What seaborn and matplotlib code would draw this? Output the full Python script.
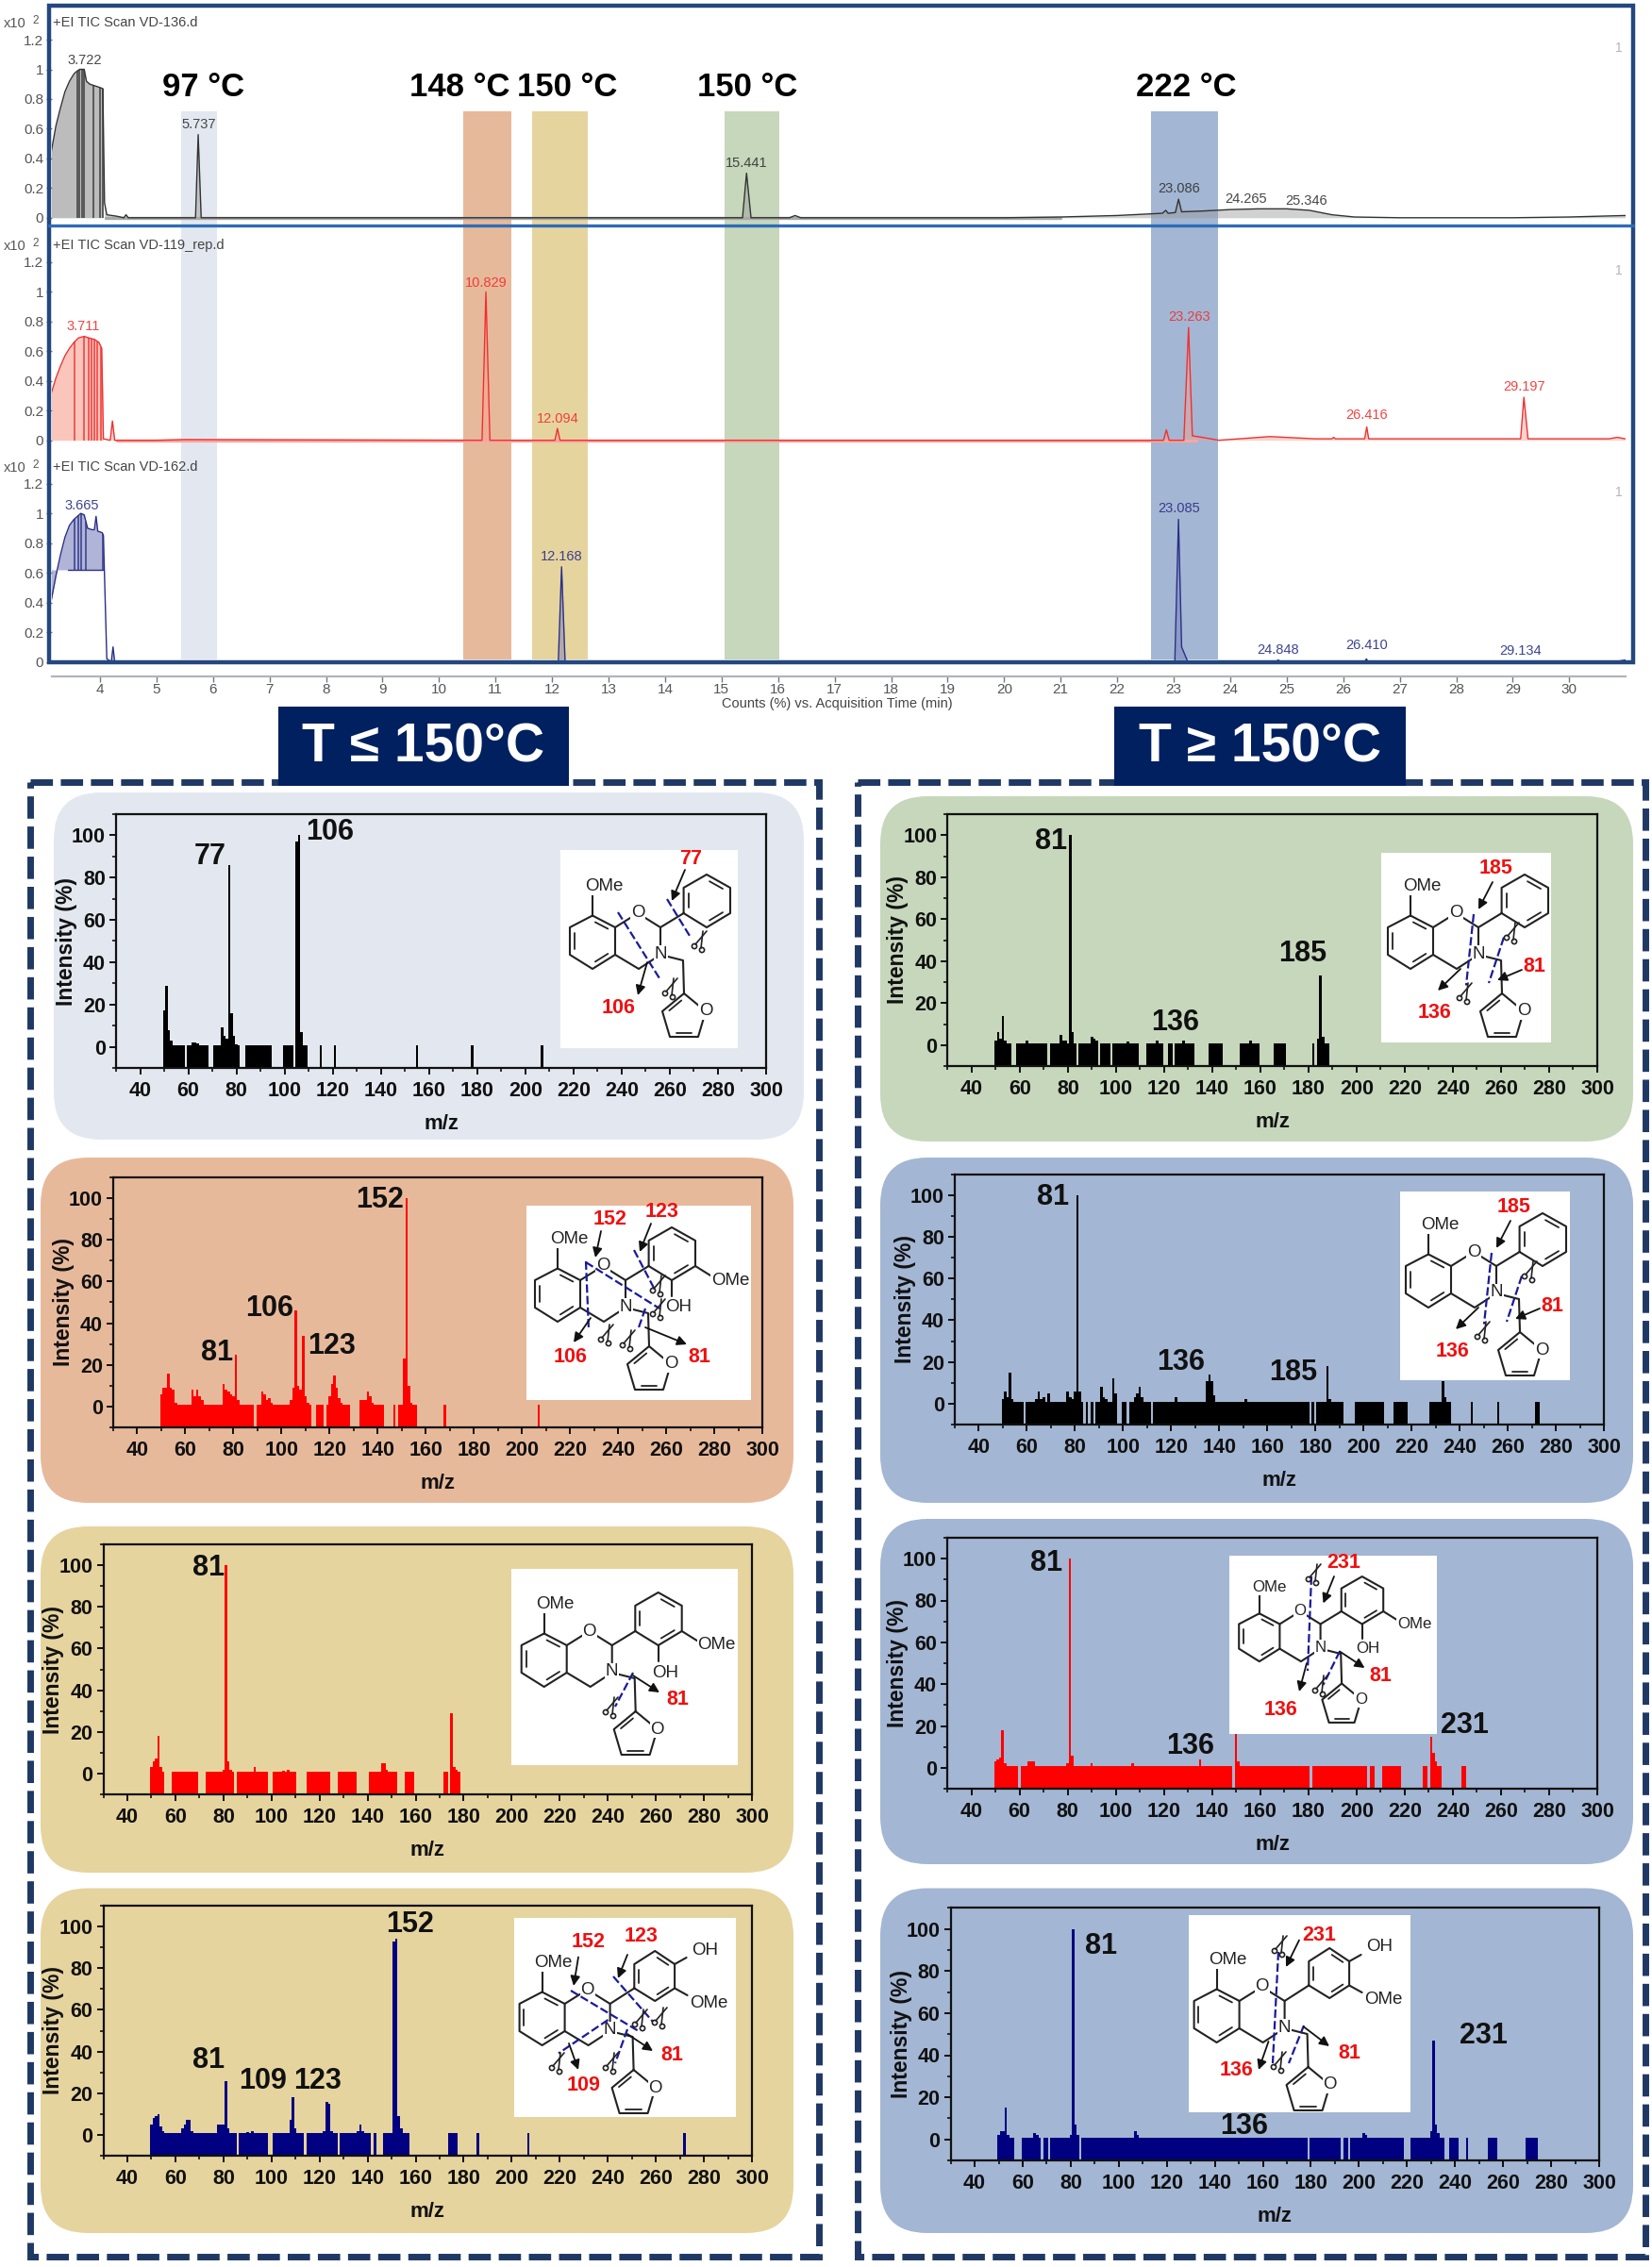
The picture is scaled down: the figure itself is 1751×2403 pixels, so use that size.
import numpy as np
import matplotlib
matplotlib.use('Agg')
import matplotlib.pyplot as plt
from matplotlib.patches import FancyBboxPatch, Rectangle, Circle
import seaborn as sns

W, H = 1751, 2403

# TIC traces, retention time (min) vs counts (x10^2)
tic1_t = [3.14, 3.22, 3.3, 3.38, 3.46, 3.54, 3.6, 3.64, 3.72, 3.76, 3.82, 3.9, 3.98, 4.05, 4.08, 4.12, 4.3, 4.42, 4.46, 4.5,
          5.69, 5.737, 5.79, 15.37, 15.441, 15.52, 16.2, 16.3, 16.4, 20, 21, 22, 22.8, 22.86, 22.9, 23.03, 23.086, 23.14,
          23.5, 24, 24.5, 25, 25.4, 25.8, 26.2, 27, 29, 30, 30.99]
tic1_v = [0.45, 0.62, 0.74, 0.85, 0.92, 0.97, 0.99, 1.0, 1.0, 0.92, 0.9, 0.89, 0.88, 0.87, 0.1, 0.02, 0.01, 0.0, 0.02, 0.0,
          0.0, 0.56, 0.0, 0.0, 0.3, 0.0, 0.0, 0.015, 0.0, 0.0, 0.005, 0.015, 0.03, 0.05, 0.03, 0.035, 0.125, 0.04,
          0.045, 0.055, 0.06, 0.06, 0.05, 0.02, 0.005, 0.0, 0.0, 0.005, 0.015]
tic1_cuts = [3.6, 3.64, 3.68, 3.72, 3.88, 4.0, 4.05]
tic1_base_t = [4.1, 21]
tic1_base_v = [0.0, 0.0]

tic2_t = [3.14, 3.22, 3.3, 3.38, 3.46, 3.54, 3.62, 3.72, 3.8, 3.9, 3.98, 4.03, 4.06, 4.18, 4.22, 4.26, 5.0, 5.5, 10.76, 10.829, 10.9,
          12.05, 12.094, 12.14, 22.82, 22.87, 22.92, 23.18, 23.263, 23.33, 23.5, 23.8, 24.7, 25.5, 25.8, 25.83, 25.86,
          26.38, 26.416, 26.45, 29.14, 29.197, 29.27, 30.7, 30.85, 30.99]
tic2_v = [0.32, 0.42, 0.5, 0.57, 0.62, 0.66, 0.69, 0.7, 0.69, 0.68, 0.66, 0.62, 0.01, 0.0, 0.13, 0.0, 0.0, 0.005, 0.0, 1.0, 0.0,
          0.0, 0.08, 0.0, 0.0, 0.07, 0.0, 0.0, 0.76, 0.03, 0.02, 0.0, 0.025, 0.01, 0.01, 0.02, 0.01,
          0.01, 0.09, 0.01, 0.01, 0.29, 0.01, 0.01, 0.02, 0.01]
tic2_cuts = [3.55, 3.72, 3.8, 3.85, 3.9, 3.95, 4.02]
tic2_base_t = [4.3, 23.4]
tic2_base_v = [0.0, 0.0]

tic3_t = [3.14, 3.22, 3.3, 3.38, 3.46, 3.54, 3.6, 3.66, 3.72, 3.78, 3.86, 3.9, 3.93, 3.96, 4.04, 4.06, 4.12, 4.2, 4.23, 4.26,
          4.5, 12.11, 12.168, 12.23, 23.02, 23.085, 23.14, 23.25, 24.8, 24.848, 24.9, 26.38, 26.41, 26.44, 30.8, 30.99]
tic3_v = [0.42, 0.58, 0.72, 0.84, 0.92, 0.96, 0.98, 1.0, 0.99, 0.9, 0.89, 0.89, 0.98, 0.88, 0.87, 0.85, 0.02, 0.0, 0.1, 0.0,
          0.0, 0.0, 0.64, 0.0, 0.0, 0.96, 0.1, 0.0, 0.0, 0.012, 0.0, 0.0, 0.02, 0.0, 0.0, 0.012]
tic3_cuts = [3.55, 3.62, 3.66, 3.75, 4.05]

tic_names = ['+EI TIC Scan VD-136.d', '+EI TIC Scan VD-119_rep.d', '+EI TIC Scan VD-162.d']
tic1_labels = [('3.722', 3.73, 1.06), ('5.737', 5.74, 0.63), ('15.441', 15.44, 0.368),
               ('23.086', 23.09, 0.194), ('24.265', 24.27, 0.124), ('25.346', 25.35, 0.11)]
tic2_labels = [('3.711', 3.7, 0.77), ('10.829', 10.84, 1.06), ('12.094', 12.1, 0.145),
               ('23.263', 23.27, 0.83), ('26.416', 26.41, 0.17), ('29.197', 29.2, 0.36)]
tic3_labels = [('3.665', 3.67, 1.05), ('12.168', 12.17, 0.71), ('23.085', 23.09, 1.03),
               ('24.848', 24.85, 0.08), ('26.410', 26.41, 0.11), ('29.134', 29.13, 0.07)]

# mass spectra: runs of m/z with a low signal, then the peaks that stand out
l1_runs = [(50, 56), (57, 58), (60, 68), (71, 81), (84, 94), (100, 103), (105, 109), (115, 115), (121, 121), (155, 155), (178, 178), (207, 207)]
l1_peaks = {50: 17, 51: 29, 52: 8, 53: 3, 62: 2, 63: 2, 64: 1.5, 74: 9, 75: 5, 76: 4, 77: 86, 78: 16, 79: 5, 80: 1, 105: 97, 106: 100, 107: 7}
l1_labels = [('77', 69, 90), ('106', 119, 101.5)]

l2_runs = [(50, 84), (85, 88), (90, 99), (100, 101), (102, 104), (105, 112), (115, 117), (119, 128), (133, 142), (147, 147), (149, 149), (150, 156), (168, 168), (207, 207)]
l2_peaks = {50: 6, 51: 9, 52: 9, 53: 16, 54: 9, 55: 8, 56: 2, 63: 8, 64: 5, 65: 8, 66: 5, 67: 3, 76: 11, 77: 8, 78: 7, 79: 6, 80: 5, 81: 25, 82: 3,
            92: 7, 93: 6, 94: 3, 95: 4, 96: 2, 104: 3, 105: 9, 106: 46, 107: 10, 108: 8, 109: 34, 110: 5, 111: 2, 120: 5, 121: 11, 122: 15, 123: 9, 124: 4, 125: 2,
            133: 3, 134: 3, 135: 3, 136: 7, 137: 5, 138: 2, 151: 23, 152: 100, 153: 10, 154: 2, 155: 1}
l2_labels = [('152', 140.7, 99), ('106', 95, 47), ('123', 121, 29), ('81', 73, 26)]

l3_runs = [(50, 55), (59, 69), (73, 74), (75, 84), (86, 89), (90, 98), (101, 110), (115, 124), (128, 135), (141, 143), (144, 150), (151, 152), (156, 159), (172, 173), (175, 178)]
l3_peaks = {50: 3, 51: 6, 52: 7, 53: 18, 54: 3, 62: 1, 80: 2, 81: 100, 82: 6, 83: 2, 93: 3, 105: 1.5, 107: 2, 146: 5, 147: 5, 148: 2, 175: 29, 176: 3, 177: 2}
l3_labels = [('81', 73.8, 98.5)]

l4_runs = [(50, 71), (72, 85), (87, 98), (101, 102), (103, 113), (115, 127), (129, 130), (131, 132), (133, 140), (141, 141), (143, 143), (147, 150), (151, 157), (174, 177), (186, 186), (207, 207), (272, 272)]
l4_peaks = {50: 5, 51: 8, 52: 9, 53: 10, 54: 4, 55: 2, 63: 3, 64: 5, 65: 7, 66: 7, 67: 2, 78: 5, 79: 5, 80: 5, 81: 26, 82: 3, 90: 1.5, 92: 2,
            108: 7, 109: 18, 110: 3, 122: 2, 123: 16, 124: 15, 125: 2, 136: 2, 137: 5, 138: 2, 151: 93, 152: 94, 153: 9, 154: 3, 155: 1}
l4_labels = [('152', 157.7, 101), ('81', 74, 35.6), ('109', 96.3, 26), ('123', 119.3, 26)]

r1_runs = [(50, 56), (59, 59), (60, 66), (67, 71), (73, 83), (85, 92), (94, 97), (99, 102), (102, 109), (113, 119), (122, 123), (125, 132), (139, 144), (152, 159), (166, 170), (182, 182), (184, 188)]
r1_peaks = {50: 2, 51: 6, 52: 3, 53: 14, 54: 2, 63: 2, 64: 1, 77: 5, 78: 2, 79: 2, 81: 100, 82: 6, 83: 1, 90: 4, 91: 3, 92: 2, 105: 1.5, 117: 2, 128: 2, 156: 2, 184: 3, 185: 33, 186: 4, 187: 1}
r1_labels = [('81', 73, 97), ('185', 177.7, 43.6), ('136', 124.5, 10.5)]

r2_runs = [(50, 58), (60, 71), (72, 83), (85, 85), (87, 87), (89, 97), (100, 101), (103, 103), (104, 111), (113, 177), (179, 179), (181, 182), (183, 191), (197, 208), (213, 218), (228, 236), (245, 245), (256, 256), (272, 273)]
r2_peaks = {50: 2, 51: 6, 52: 3, 53: 15, 54: 2, 64: 2, 65: 6, 66: 2, 67: 3, 69: 5, 77: 6, 78: 3, 79: 2, 80: 6, 81: 100, 82: 6, 91: 8, 92: 3, 93: 2, 96: 12, 97: 5,
            105: 3, 106: 5, 107: 8, 108: 3, 122: 3, 135: 11, 136: 14, 137: 11, 138: 4, 151: 2, 185: 18, 186: 2, 233: 11, 234: 3}
r2_labels = [('81', 70.8, 99), ('136', 124, 19.8), ('185', 170.8, 15)]

r3_runs = [(50, 59), (61, 70), (71, 72), (73, 86), (87, 98), (99, 109), (109, 147), (148, 148), (150, 180), (182, 192), (193, 204), (206, 207), (211, 218), (228, 229), (231, 235), (244, 245)]
r3_peaks = {50: 3, 51: 4, 52: 5, 53: 18, 54: 2, 64: 3, 65: 3, 66: 3, 80: 2, 81: 100, 82: 6, 83: 1, 90: 2, 107: 2, 135: 4, 150: 20, 151: 3, 231: 15, 232: 7, 233: 3}
r3_labels = [('81', 71.3, 98), ('136', 130.8, 10.3), ('231', 245, 20.4)]

r4_runs = [(50, 56), (60, 67), (69, 70), (72, 83), (85, 97), (98, 102), (103, 166), (167, 178), (180, 192), (194, 195), (197, 204), (205, 209), (210, 218), (222, 225), (226, 228), (229, 235), (238, 241), (245, 245), (254, 257), (270, 274)]
r4_peaks = {50: 2, 51: 4, 52: 4, 53: 15, 54: 2, 65: 3, 66: 2, 80: 2, 81: 100, 82: 7, 83: 2, 107: 4, 108: 2, 202: 3, 203: 2, 230: 4, 231: 47, 232: 7, 233: 3}
r4_labels = [('81', 92.7, 92), ('231', 252, 49), ('136', 152, 6)]

sns.set_theme(style='white')
plt.rcParams['font.family'] = ['Liberation Sans', 'DejaVu Sans']
plt.rcParams['axes.unicode_minus'] = False

fig = plt.figure(figsize=(W / 100, H / 100), dpi=100, facecolor='white')


def px_axes(x0, y0, x1, y1, z=2):
    # axes placed by its pixel box in the picture
    ax = fig.add_axes([x0 / W, 1 - y1 / H, (x1 - x0) / W, (y1 - y0) / H], zorder=z)
    ax.patch.set_alpha(0)
    return ax


under = px_axes(0, 0, W, H, z=0)
over = px_axes(0, 0, W, H, z=5)
for a in (under, over):
    a.set_xlim(0, W)
    a.set_ylim(H, 0)
    a.axis('off')

BLUE_PALE, ORANGE, YELLOW, GREEN, BLUE = '#e3e8f0', '#e7b99b', '#e6d49f', '#c6d7bc', '#a3b6d3'
NAVY = '#00205f'

# highlight bands behind the traces
for x0, x1, c in [(192, 229.6, BLUE_PALE), (491.4, 542, ORANGE), (564, 623, YELLOW), (767.5, 825.5, GREEN), (1219.7, 1291, BLUE)]:
    under.add_patch(Rectangle((x0, 118), x1 - x0, 581, color=c, lw=0))
for txt, x in [('97 °C', 216), ('148 °C', 487), ('150 °C', 601.6), ('150 °C', 792), ('222 °C', 1257.6)]:
    under.text(x, 93, txt, fontsize=25, fontweight='bold', ha='center', va='center', color='black')


def tic_panel(y0, t, v, cuts, labels, name, color, fill, alpha, floor=0.0, xaxis=False, base=None, base_color=None):
    scale = 157.3
    ax = px_axes(54.5, y0 - 1.25 * scale, 1722.6, y0 + 0.03 * scale)
    t, v = np.array(t), np.array(v)
    early = t <= 4.06
    ax.fill_between(t[early], floor, v[early], color=fill, alpha=alpha, lw=0)
    ax.fill_between(t[~early], 0, v[~early], color=fill, alpha=0.45, lw=0)
    ax.vlines(cuts, floor, np.interp(cuts, t, v), color=color, lw=1.2, alpha=0.85)
    if floor > 0:
        ax.plot([t[0] + 0.3, 4.05], [floor, floor], color=color, lw=1)
    if base is not None:
        sns.lineplot(x=base[0], y=base[1], color=base_color, lw=2.4, estimator=None, sort=False, ax=ax)
    sns.lineplot(x=t, y=v, color=color, lw=1.0, estimator=None, sort=False, ax=ax)
    ax.set_xlim(3.14, 30.99)
    ax.set_ylim(-0.03, 1.25)
    ax.set_yticks([0, 0.2, 0.4, 0.6, 0.8, 1, 1.2], ['0', '0.2', '0.4', '0.6', '0.8', '1', '1.2'])
    ax.tick_params(axis='y', left=True, length=4, width=1, color='#777777', labelcolor='#555555', labelsize=11, pad=2)
    for s in ('top', 'right', 'left'):
        ax.spines[s].set_visible(False)
    if xaxis:
        ax.spines['bottom'].set_position(('outward', 8))
        ax.spines['bottom'].set_color('#b0b4bc')
        ax.spines['bottom'].set_linewidth(1.6)
        ax.set_xticks(range(4, 31))
        ax.tick_params(axis='x', bottom=True, length=4, width=1, color='#777777', labelcolor='#555555', labelsize=11, pad=1)
    else:
        ax.spines['bottom'].set_visible(False)
        ax.set_xticks([])
    ax.set_xlabel('')
    ax.set_ylabel('')
    for txt, x, y in labels:
        ax.text(x, y, txt, color=color, fontsize=10.5, ha='center', va='center', alpha=0.9)
    top = y0 - 206.5
    over.text(55.7, top, name, fontsize=10.5, color='#444444', ha='left', va='center')
    over.text(3.4, top + 1, 'x10', fontsize=10.5, color='#555555', ha='left', va='center')
    over.text(34, top - 2, '2', fontsize=8.5, color='#555555', ha='left', va='center')
    over.text(1715.7, top + 27, '1', fontsize=10, color='#b5b5b5', ha='center', va='center')
    return ax


tic_panel(230.8, tic1_t, tic1_v, tic1_cuts, tic1_labels, tic_names[0], '#333333', '#999999', 0.65,
          base=(tic1_base_t, tic1_base_v), base_color='#a8a8a8')
tic_panel(466.7, tic2_t, tic2_v, tic2_cuts, tic2_labels, tic_names[1], '#f03030', '#f7a090', 0.6,
          base=(tic2_base_t, tic2_base_v), base_color='#f5a8a0')
tic_panel(701.5, tic3_t, tic3_v, tic3_cuts, tic3_labels, tic_names[2], '#2a2f86', '#7078b8', 0.55, floor=0.62, xaxis=True)
over.text(887.6, 746, 'Counts (%) vs. Acquisition Time (min)', fontsize=10.5, color='#444444', ha='center', va='center')

over.add_patch(Rectangle((52, 6), 1679, 695.5, fill=False, ec='#24477f', lw=3.2))
over.plot([52, 1731], [239, 239], color='#2f6cb5', lw=2.4)

# dashed frames and headers
for x0, x1 in [(32, 868), (909, 1744)]:
    under.add_patch(Rectangle((x0, 829), x1 - x0, 1563, fill=False, ec='#1f3864', lw=5, ls=(0, (3.4, 1.2)), capstyle='butt'))
for x0, x1, txt in [(294.5, 603, 'T ≤ 150°C'), (1180.7, 1489.5, 'T ≥ 150°C')]:
    under.add_patch(Rectangle((x0, 749), x1 - x0, 84, color=NAVY, lw=0))
    under.text((x0 + x1) / 2, 792, txt, color='white', fontsize=41, fontweight='bold', ha='center', va='center')


def spectrum(runs, peaks):
    # low bars for every run, real heights where a peak was read
    table = {}
    for a, b in runs:
        for m in range(a, b + 1):
            table[m] = 0.8
    table.update(peaks)
    mz = np.array(sorted(table))
    return mz, np.array([table[m] for m in mz])


def ms_panel(card, box, color, fill, runs, peaks, labels):
    cx0, cy0, cx1, cy1 = card
    under.add_patch(FancyBboxPatch((cx0, cy0), cx1 - cx0, cy1 - cy0, boxstyle='round,pad=0,rounding_size=50', fc=fill, ec='none'))
    ax = px_axes(*box)
    mz, inten = spectrum(runs, peaks)
    sns.barplot(x=mz, y=inten + 10, bottom=-10, native_scale=True, color=color, saturation=1,
                errorbar=None, width=1, linewidth=0, ax=ax)
    ax.set_xlim(30, 300)
    ax.set_ylim(-10, 110)
    ax.set_xticks(range(40, 301, 20))
    ax.set_xticks(range(30, 301, 10), minor=True)
    ax.set_yticks(range(0, 101, 20))
    ax.set_yticks(range(-10, 111, 10), minor=True)
    ax.tick_params(which='major', bottom=True, left=True, length=5, width=1.3, color='black', labelcolor='#111111', pad=5)
    ax.tick_params(which='minor', bottom=True, left=True, length=3, width=1.1, color='black')
    for lab in ax.get_xticklabels() + ax.get_yticklabels():
        lab.set_fontsize(15.5)
        lab.set_fontweight('bold')
    ax.tick_params(axis='y', which='major', pad=3)
    for s in ax.spines.values():
        s.set_visible(True)
        s.set_color('#111111')
        s.set_linewidth(1.6)
    ax.set_xlabel('m/z', fontsize=16, fontweight='bold', color='#111111')
    ax.set_ylabel('Intensity (%)', fontsize=16.5, fontweight='bold', color='#111111')
    ax.xaxis.set_label_coords(0.5, -49 / (box[3] - box[1]))
    ax.yaxis.set_label_coords(-41 / (box[2] - box[0]), 0.5)
    for txt, x, y in labels:
        ax.text(x, y, txt, fontsize=22, fontweight='bold', ha='center', va='center', color='#111111')
    return ax


ms_panel((57, 840, 852, 1208), (123, 863, 812, 1132), '#000000', BLUE_PALE, l1_runs, l1_peaks, l1_labels)
ms_panel((43, 1227, 841, 1593), (120, 1248, 808, 1513), '#ff0000', ORANGE, l2_runs, l2_peaks, l2_labels)
ms_panel((43, 1618, 841, 1985), (109.5, 1637, 797, 1902), '#ff0000', YELLOW, l3_runs, l3_peaks, l3_labels)
ms_panel((43, 2001.5, 841, 2367), (109.5, 2020, 797, 2285), '#000080', YELLOW, l4_runs, l4_peaks, l4_labels)
ms_panel((933, 844, 1731, 1210), (1004.4, 863, 1693, 1130), '#000000', GREEN, r1_runs, r1_peaks, r1_labels)
ms_panel((933, 1227, 1731, 1593), (1012, 1244.5, 1700, 1510), '#000000', BLUE, r2_runs, r2_peaks, r2_labels)
ms_panel((933, 1610, 1731, 1976), (1004, 1630, 1693, 1896), '#ff0000', BLUE, r3_runs, r3_peaks, r3_labels)
ms_panel((933, 2001.5, 1731, 2367), (1007.6, 2022.4, 1695, 2290), '#000080', BLUE, r4_runs, r4_peaks, r4_labels)

# molecule skeleton, offsets in pixels from the ring oxygen
BENZ = [(-48, 2.5), (-24, 15), (-24, 44), (-48, 59), (-72, 44), (-72, 15)]
CHAIN = [(-24, 44), (1, 59), (24, 44), (24, 15), (0, 0), (-24, 15)]
SIDE = [(24, 44), (48, 50), (49, 85)]
FURAN = [(49, 85), (72, 104), (64, 131), (34, 131), (26, 104)]
PH_OPEN = [(48.6, 0), (48.6, -27), (73, -41), (98, -27), (98, 0), (73, 15)]
PH_PARA = [(49.7, -1.5), (49.7, -27), (71.6, -41), (92.5, -27), (92.5, -1.5), (71.6, 12)]
BOND = '#222222'


def bonds(ox, oy, s, pts, close=False, lw=1.5):
    p = np.array(list(pts) + list(pts[:1]) if close else pts, dtype=float) * s
    over.plot(p[:, 0] + ox, p[:, 1] + oy, color=BOND, lw=lw, solid_capstyle='round')


def doubles(ox, oy, s, pts, which):
    pts = np.array(pts, dtype=float) * s
    c = pts.mean(axis=0)
    for i in which:
        a = pts[i]
        b = pts[(i + 1) % len(pts)]
        a2 = a + (c - a) * 0.2 + (b - a) * 0.12
        b2 = b + (c - b) * 0.2 - (b - a) * 0.12
        over.plot([a2[0] + ox, b2[0] + ox], [a2[1] + oy, b2[1] + oy], color=BOND, lw=1.3)


def mol_text(x, y, txt, size=13.5):
    over.text(x, y, txt, fontsize=size, color=BOND, ha='center', va='center',
              bbox=dict(fc='white', ec='none', pad=0.6))


def scissors(x, y):
    for dx, dy in [(-5, 3), (3, 7)]:
        over.add_patch(Circle((x + dx, y + dy), 2.6, fc='none', ec=BOND, lw=1.2, zorder=6))
    over.plot([x - 4, x + 8], [y + 1, y - 13], color=BOND, lw=1.2, zorder=6)
    over.plot([x + 2, x + 4], [y + 5, y - 13], color=BOND, lw=1.2, zorder=6)


def molecule(rect, anchor, kind, nums, arrows, cuts, sciss, s=1.0):
    x0, y0, x1, y1 = rect
    over.add_patch(Rectangle((x0, y0), x1 - x0, y1 - y0, fc='white', ec='none'))
    ox, oy = anchor
    bonds(ox, oy, s, BENZ, close=True)
    doubles(ox, oy, s, BENZ, [0, 2, 4])
    bonds(ox, oy, s, CHAIN)
    bonds(ox, oy, s, SIDE)
    bonds(ox, oy, s, [(-48, 2.5), (-48, -20)])
    bonds(ox, oy, s, FURAN, close=True)
    doubles(ox, oy, s, FURAN, [2, 4])
    size = 13.5 * s
    mol_text(ox - 36 * s, oy - 28.5 * s, 'OMe', size)
    mol_text(ox, oy, 'O', size)
    mol_text(ox + 24 * s, oy + 43 * s, 'N', size)
    mol_text(ox + 72 * s, oy + 104 * s, 'O', size)
    ring = PH_PARA if kind == 'para' else PH_OPEN
    bonds(ox, oy, s, [(24, 15), ring[0]])
    bonds(ox, oy, s, ring, close=True)
    doubles(ox, oy, s, ring, [0, 2, 4])
    if kind == 'ortho':
        bonds(ox, oy, s, [(98, 0), (114, 10)])
        bonds(ox, oy, s, [(73, 15), (73, 32)])
        mol_text(ox + 135 * s, oy + 15 * s, 'OMe', size)
        mol_text(ox + 80 * s, oy + 44 * s, 'OH', size)
    elif kind == 'para':
        bonds(ox, oy, s, [(92.5, -27), (105, -34)])
        bonds(ox, oy, s, [(92.5, -1.5), (106, 6)])
        mol_text(ox + 125 * s, oy - 42 * s, 'OH', size)
        mol_text(ox + 129 * s, oy + 14 * s, 'OMe', size)
    for a, b, c, d in cuts:
        over.plot([a, c], [b, d], color='#1a1a9a', lw=1.6, ls=(0, (4, 1.5)), zorder=5)
    for a, b, c, d in arrows:
        over.annotate('', xy=(c, d), xytext=(a, b), zorder=6,
                      arrowprops=dict(arrowstyle='-|>', color='#111111', lw=1.3, mutation_scale=15, shrinkA=0, shrinkB=0))
    for x, y in sciss:
        scissors(x, y)
    for txt, x, y in nums:
        over.text(x, y, txt, fontsize=15.5, fontweight='bold', color='#f01010', ha='center', va='center', zorder=7)


molecule((594, 901, 782, 1111), (676, 968), 'plain',
         [('77', 732, 911), ('106', 656, 1068)],
         [(726, 922, 712, 955), (686, 1020, 676, 1055)],
         [(707, 953, 731, 992), (655, 967, 699, 1037)],
         [(741, 1000), (710, 1050)])
molecule((558, 1278, 796, 1484), (639, 1342), 'ortho',
         [('152', 647, 1292), ('123', 702, 1285), ('106', 605, 1438), ('81', 741, 1438)],
         [(637, 1305, 631, 1333), (690, 1297, 678, 1327), (626, 1397, 608, 1423), (684, 1407, 728, 1425)],
         [(621, 1337, 624, 1410), (621, 1338, 699, 1387), (672, 1325, 694, 1367), (684, 1387, 676, 1410)],
         [(697, 1365), (697, 1390), (642, 1417), (665, 1423)])
molecule((541.5, 1663, 782, 1871), (624.7, 1729), 'ortho',
         [('81', 718, 1801.5)],
         [(671, 1776, 699, 1794)],
         [(671, 1773, 652, 1809)],
         [(647, 1812)])
molecule((544.6, 2032.6, 780, 2244), (622.6, 2109), 'para',
         [('152', 624, 2058), ('123', 680, 2053), ('81', 712.5, 2179), ('109', 619, 2210)],
         [(613, 2074.5, 608, 2105), (665, 2072, 655, 2097), (665, 2156, 692, 2174), (603, 2166, 613, 2194)],
         [(605, 2110, 678, 2153.6), (650, 2095, 692, 2143), (644.5, 2141, 592, 2176.5), (665, 2151, 652, 2187)],
         [(699, 2141), (678, 2143), (590, 2189), (647, 2189)])
molecule((1464, 904, 1644, 1105), (1543, 968), 'plain',
         [('185', 1586, 920.5), ('81', 1626, 1025), ('136', 1520, 1073.6)],
         [(1582, 935, 1567, 964), (1613, 1028, 1587, 1039), (1548, 1027, 1524, 1050)],
         [(1562, 969, 1554, 1044.5), (1594, 993.5, 1578, 1042)],
         [(1552, 1055), (1602, 991)])
molecule((1484, 1263, 1664, 1463), (1562, 1327), 'plain',
         [('185', 1605, 1279.5), ('81', 1645, 1384), ('136', 1539, 1432.6)],
         [(1601, 1294, 1586, 1323), (1632, 1387, 1606, 1398), (1567, 1386, 1543, 1409)],
         [(1581, 1328, 1573, 1403.5), (1613, 1352.5, 1597, 1401)],
         [(1571, 1414), (1621, 1350)])
molecule((1303, 1648.5, 1523, 1838), (1378, 1708), 'ortho',
         [('231', 1424, 1656), ('81', 1463.6, 1776), ('136', 1357, 1812)],
         [(1414, 1671, 1402.5, 1699.5), (1420, 1750.5, 1446.5, 1768), (1385, 1763, 1377, 1793)],
         [(1390, 1671, 1386, 1771), (1420, 1750.5, 1402.5, 1786)],
         [(1392, 1671), (1399, 1789)], s=0.9)
molecule((1260, 2030, 1495, 2239), (1337.6, 2106), 'para',
         [('231', 1398, 2051.5), ('81', 1430, 2176.5), ('136', 1310, 2195)],
         [(1377, 2056.6, 1363, 2085), (1382, 2148.5, 1409, 2169), (1344.5, 2164, 1334, 2194)],
         [(1355, 2069, 1349, 2187), (1382, 2147, 1366, 2187)],
         [(1356, 2065), (1355, 2188)])

fig.savefig('out.png', dpi=100)
